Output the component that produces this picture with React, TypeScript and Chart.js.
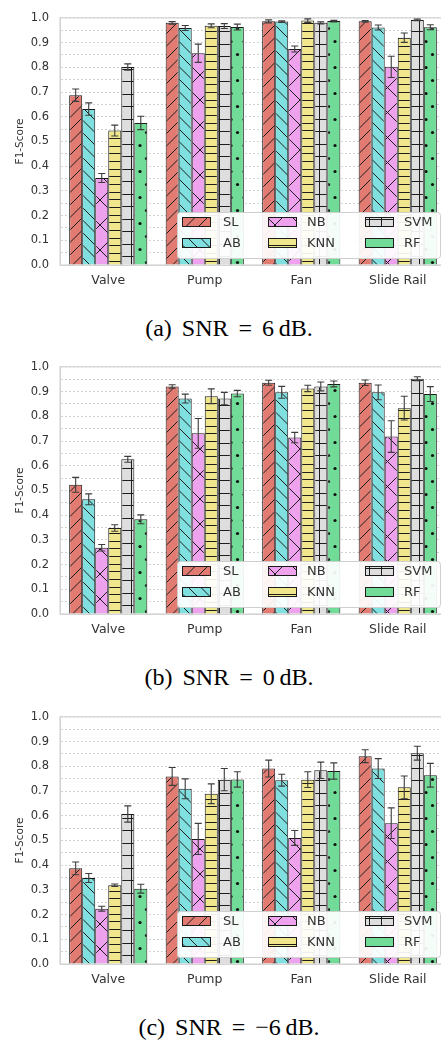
import React, { useEffect, useRef } from 'react';
import { Chart, registerables } from 'chart.js';

Chart.register(...registerables);

// ---------- data ----------
const CATEGORIES = ['Valve', 'Pump', 'Fan', 'Slide Rail'];
const METHODS = ['SL', 'AB', 'NB', 'KNN', 'SVM', 'RF'];
const CAPTIONS = ['(a) SNR = 6\u2009dB.', '(b) SNR = 0\u2009dB.', '(c) SNR = \u22126\u2009dB.'];
const Y_LABEL = 'F1-Score';

// (a) SNR = 6 dB
const SNR6_SL = [0.687, 0.980, 0.986, 0.986];
const SNR6_AB = [0.631, 0.959, 0.985, 0.961];
const SNR6_NB = [0.352, 0.857, 0.874, 0.802];
const SNR6_KNN = [0.544, 0.968, 0.989, 0.920];
const SNR6_SVM = [0.801, 0.967, 0.980, 0.992];
const SNR6_RF = [0.575, 0.963, 0.987, 0.962];
const SNR6_SL_ERR = [0.025, 0.005, 0.006, 0.003];
const SNR6_AB_ERR = [0.025, 0.010, 0.003, 0.010];
const SNR6_NB_ERR = [0.018, 0.037, 0.012, 0.043];
const SNR6_KNN_ERR = [0.022, 0.008, 0.007, 0.019];
const SNR6_SVM_ERR = [0.013, 0.010, 0.004, 0.003];
const SNR6_RF_ERR = [0.027, 0.012, 0.003, 0.010];

// (b) SNR = 0 dB
const SNR0_SL = [0.523, 0.921, 0.936, 0.936];
const SNR0_AB = [0.464, 0.872, 0.897, 0.897];
const SNR0_NB = [0.268, 0.731, 0.714, 0.718];
const SNR0_KNN = [0.348, 0.881, 0.913, 0.833];
const SNR0_SVM = [0.626, 0.872, 0.921, 0.952];
const SNR0_RF = [0.383, 0.892, 0.931, 0.890];
const SNR0_SL_ERR = [0.030, 0.007, 0.010, 0.011];
const SNR0_AB_ERR = [0.022, 0.018, 0.024, 0.030];
const SNR0_NB_ERR = [0.013, 0.060, 0.021, 0.064];
const SNR0_KNN_ERR = [0.013, 0.030, 0.013, 0.048];
const SNR0_SVM_ERR = [0.012, 0.025, 0.018, 0.008];
const SNR0_RF_ERR = [0.018, 0.013, 0.012, 0.030];

// (c) SNR = -6 dB
const SNRM6_SL = [0.387, 0.759, 0.791, 0.841];
const SNRM6_AB = [0.348, 0.709, 0.744, 0.791];
const SNRM6_NB = [0.224, 0.506, 0.510, 0.570];
const SNRM6_KNN = [0.319, 0.689, 0.746, 0.715];
const SNRM6_SVM = [0.607, 0.746, 0.784, 0.853];
const SNRM6_RF = [0.305, 0.747, 0.781, 0.764];
const SNRM6_SL_ERR = [0.026, 0.036, 0.034, 0.026];
const SNRM6_AB_ERR = [0.018, 0.040, 0.024, 0.040];
const SNRM6_NB_ERR = [0.010, 0.063, 0.030, 0.062];
const SNRM6_KNN_ERR = [0.005, 0.040, 0.032, 0.046];
const SNRM6_SVM_ERR = [0.033, 0.045, 0.033, 0.028];
const SNRM6_RF_ERR = [0.018, 0.031, 0.033, 0.048];

// ---------- styles ----------
const FILLS = ['#e27c73', '#80e0e0', '#eea2ee', '#f0e68c', '#dedede', '#70dc98'];
const HATCHES = ['/', '\\', 'x', '-', '+', '.'];
const FONT = 'DejaVu Sans';
const TEXT = '#333333';

const PANELS = [
  {
    caption: CAPTIONS[0],
    means: [SNR6_SL, SNR6_AB, SNR6_NB, SNR6_KNN, SNR6_SVM, SNR6_RF],
    errs: [SNR6_SL_ERR, SNR6_AB_ERR, SNR6_NB_ERR, SNR6_KNN_ERR, SNR6_SVM_ERR, SNR6_RF_ERR],
  },
  {
    caption: CAPTIONS[1],
    means: [SNR0_SL, SNR0_AB, SNR0_NB, SNR0_KNN, SNR0_SVM, SNR0_RF],
    errs: [SNR0_SL_ERR, SNR0_AB_ERR, SNR0_NB_ERR, SNR0_KNN_ERR, SNR0_SVM_ERR, SNR0_RF_ERR],
  },
  {
    caption: CAPTIONS[2],
    means: [SNRM6_SL, SNRM6_AB, SNRM6_NB, SNRM6_KNN, SNRM6_SVM, SNRM6_RF],
    errs: [SNRM6_SL_ERR, SNRM6_AB_ERR, SNRM6_NB_ERR, SNRM6_KNN_ERR, SNRM6_SVM_ERR, SNRM6_RF_ERR],
  },
];

function makePattern(kind: string, color: string): CanvasPattern | string {
  let w = 25;
  let h = 25;
  if (kind === '-') { w = 8; h = 23; }
  if (kind === '.') { w = 13; h = 26; }
  const c = document.createElement('canvas');
  c.width = w;
  c.height = h;
  const g = c.getContext('2d');
  if (!g) return color;
  g.fillStyle = color;
  g.fillRect(0, 0, w, h);
  g.strokeStyle = '#1c1c1c';
  g.fillStyle = '#111111';
  g.lineWidth = 1;
  const line = (x1: number, y1: number, x2: number, y2: number) => {
    g.beginPath();
    g.moveTo(x1, y1);
    g.lineTo(x2, y2);
    g.stroke();
  };
  if (kind === '/') {
    for (const cc of [0, 12.5, 25, 37.5, 50]) line(cc, 0, cc - 25, 25);
  } else if (kind === '\\') {
    for (const cc of [-25, -12.5, 0, 12.5, 25]) line(cc, 0, cc + 25, 25);
  } else if (kind === 'x') {
    for (const cc of [0, 25, 50]) line(cc, 0, cc - 25, 25);
    for (const cc of [-25, 0, 25]) line(cc, 0, cc + 25, 25);
  } else if (kind === '-') {
    for (const yy of [0.5, 8.5, 15.5]) line(0, yy, w, yy);
  } else if (kind === '+') {
    for (const yy of [6.5, 19.5]) line(0, yy, w, yy);
    for (const xx of [6.5, 19.5]) line(xx, 0, xx, h);
  } else if (kind === '.') {
    for (const [dx, dy] of [[3.5, 2.5], [10, 15.5]]) {
      g.beginPath();
      g.arc(dx, dy, 1.6, 0, Math.PI * 2);
      g.fill();
    }
  }
  const p = g.createPattern(c, 'repeat');
  return p || color;
}

const frameAndErrors = {
  id: 'frameAndErrors',
  beforeDatasetsDraw(chart: any) {
    const { ctx, chartArea } = chart;
    ctx.save();
    ctx.strokeStyle = '#d4d4d4';
    ctx.lineWidth = 1.2;
    ctx.strokeRect(chartArea.left, chartArea.top, chartArea.right - chartArea.left, chartArea.bottom - chartArea.top);
    ctx.restore();
  },
  afterDatasetsDraw(chart: any) {
    const { ctx } = chart;
    const yScale = chart.scales.y;
    ctx.save();
    ctx.strokeStyle = '#3c3c3c';
    ctx.lineWidth = 1.1;
    chart.data.datasets.forEach((ds: any, i: number) => {
      const meta = chart.getDatasetMeta(i);
      meta.data.forEach((bar: any, j: number) => {
        const v = ds.data[j];
        const e = ds.errors[j];
        const x = bar.x;
        const yt = yScale.getPixelForValue(v + e);
        const yb = yScale.getPixelForValue(v - e);
        ctx.beginPath();
        ctx.moveTo(x, yt);
        ctx.lineTo(x, yb);
        ctx.moveTo(x - 3.5, yt);
        ctx.lineTo(x + 3.5, yt);
        ctx.moveTo(x - 3.5, yb);
        ctx.lineTo(x + 3.5, yb);
        ctx.stroke();
      });
    });
    ctx.restore();
  },
};

const boxLegend = {
  id: 'boxLegend',
  afterDraw(chart: any) {
    const { ctx, chartArea } = chart;
    const right = chartArea.right - 6;
    const bottom = chartArea.bottom - 7;
    const w = 263;
    const h = 46;
    const left = right - w;
    const top = bottom - h;
    ctx.save();
    ctx.beginPath();
    if (ctx.roundRect) ctx.roundRect(left + 0.5, top + 0.5, w, h, 3);
    else ctx.rect(left + 0.5, top + 0.5, w, h);
    ctx.fillStyle = 'rgba(255,255,255,0.92)';
    ctx.fill();
    ctx.strokeStyle = '#cfcfcf';
    ctx.lineWidth = 1;
    ctx.stroke();
    const colSw = [5, 91, 188];
    const colTx = [46, 130, 227];
    const rowY = [10, 31];
    ctx.font = `13px "${FONT}"`;
    ctx.textBaseline = 'middle';
    ctx.textAlign = 'left';
    chart.data.datasets.forEach((ds: any, i: number) => {
      const col = Math.floor(i / 2);
      const row = i % 2;
      const sx = left + colSw[col];
      const sy = top + rowY[row] - 5;
      ctx.fillStyle = ds.backgroundColor;
      ctx.fillRect(sx, sy, 29, 10);
      ctx.strokeStyle = '#1a1a1a';
      ctx.lineWidth = 1;
      ctx.strokeRect(sx + 0.5, sy + 0.5, 28, 9);
      ctx.fillStyle = TEXT;
      ctx.fillText(ds.label, left + colTx[col], top + rowY[row] + 0.5);
    });
    ctx.restore();
  },
};

function Panel({ index }: { index: number }) {
  const ref = useRef<HTMLCanvasElement | null>(null);
  useEffect(() => {
    if (!ref.current) return;
    const panel = PANELS[index];
    const chart = new Chart(ref.current, {
      type: 'bar',
      data: {
        labels: CATEGORIES,
        datasets: METHODS.map((m, i) => ({
          label: m,
          data: panel.means[i],
          errors: panel.errs[i],
          backgroundColor: makePattern(HATCHES[i], FILLS[i]),
          borderColor: '#1a1a1a',
          borderWidth: 1,
          categoryPercentage: 0.81,
          barPercentage: 1,
        })) as any,
      },
      options: {
        responsive: false,
        animation: false,
        devicePixelRatio: 1,
        layout: { padding: { top: 14, right: 0, left: 0, bottom: 0 } },
        plugins: { legend: { display: false }, tooltip: { enabled: false } },
        scales: {
          x: {
            grid: { display: false, drawTicks: false },
            border: { display: true, color: '#d4d4d4' },
            ticks: { color: TEXT, font: { family: FONT, size: 12.5 }, padding: 8 },
            afterFit: (s: any) => { s.height = 35; },
          },
          y: {
            min: 0,
            max: 1,
            grid: { color: '#cdcdcd', lineWidth: 0.9, drawTicks: false },
            border: { display: true, color: '#d4d4d4', dash: [2, 2] },
            ticks: {
              stepSize: 0.05,
              autoSkip: false,
              padding: 11,
              color: TEXT,
              font: { family: FONT, size: 11.5 },
              callback: (v: any, idx: number) => (idx % 2 === 0 ? Number(v).toFixed(1) : ''),
            },
            title: {
              display: true,
              text: Y_LABEL,
              color: TEXT,
              font: { family: FONT, size: 10.5 },
              padding: { top: 14, bottom: 0 },
            },
            afterFit: (s: any) => { s.width = 60; },
          },
        },
      },
      plugins: [frameAndErrors, boxLegend],
    } as any);
    return () => chart.destroy();
  }, [index]);
  return <canvas ref={ref} width={446} height={300} style={{ display: 'block' }} />;
}

const OFFSETS = [0, 349, 699];
const CAPTION_CENTERS = [328, 677, 1027];

export default function App() {
  return (
    <div style={{ position: 'absolute', left: 0, top: 0, width: 441, height: 1043, overflow: 'hidden', background: '#fff' }}>
      {PANELS.map((p, i) => (
        <React.Fragment key={i}>
          <div style={{ position: 'absolute', left: 0, top: OFFSETS[i], width: 441, height: 300, overflow: 'hidden' }}>
            <Panel index={i} />
          </div>
          <div
            style={{
              position: 'absolute',
              left: 0,
              width: 458,
              top: CAPTION_CENTERS[i] - 15,
              height: 30,
              lineHeight: '30px',
              textAlign: 'center',
              fontFamily: '"Liberation Serif", serif',
              fontSize: 24,
              wordSpacing: 4,
              color: '#000',
              whiteSpace: 'nowrap',
            }}
          >
            {p.caption}
          </div>
        </React.Fragment>
      ))}
    </div>
  );
}
